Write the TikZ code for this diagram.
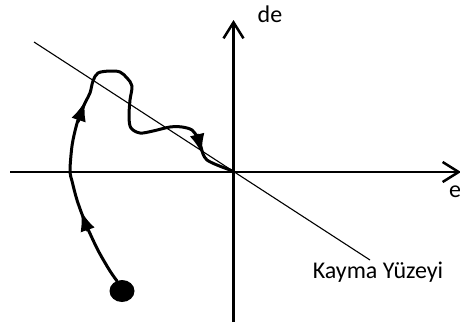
\documentclass[tikz,border=0pt]{standalone}
\usepackage{fontspec}
\setmainfont{Carlito}
\usetikzlibrary{arrows.meta}

\begin{document}
\begin{tikzpicture}[
    x=1pt, y=-1pt,
    every node/.style={font=\fontsize{24}{28}\selectfont, inner sep=0pt},
    axis/.style={line width=2.5pt, -{Straight Barb[length=16pt, width=20pt]}},
    surface/.style={line width=1.1pt},
    traj/.style={line width=3pt, line join=round, line cap=round},
    pathtip/.style={-{Latex[length=20pt, width=15pt]}, line width=3pt},
]
\useasboundingbox (0,0) rectangle (460,322);

% ---------------------------------------------------------- axes
\coordinate (O) at (233.5,172);
\coordinate (ewest) at (10,172);
\coordinate (eeast) at (461,172);
\coordinate (debot) at (233.5,322);
\coordinate (detop) at (233.5,20);
\draw[axis] (ewest) -- (eeast);
\draw[axis] (debot) -- (detop);
\node[anchor=west] (elab) at (449,192) {e};
\node (delab) at (270,14) {de};

% ---------------------------------------------------------- sliding surface
\coordinate (sstart) at (34,42);
\coordinate (send) at (370,260);
\draw[surface] (sstart) -- (send);
\node (slab) at (378,272) {Kayma Yüzeyi};

% ---------------------------------------------------------- trajectory
\fill (122,291) ellipse [x radius=12.5, y radius=11];
\draw[traj] plot[smooth, tension=0.55] coordinates {
  (117,281) (110,271) (100,254) (93,240) (85,222) (77,200) (72,181)
  (70,172) (71,155) (73,140) (78,120) (85,103) (90,93) (93,81)
  (98,73) (110,71) (120,72) (127,78) (132,86) (130,100) (129,117)
  (131,128) (140,133) (153,131) (170,127) (182,127) (192,130)
  (197,137) (201,147) (203,154) (207,160) (217,165) (230,170) (233.5,172)};

% arrowheads along the path
\draw[pathtip] (88,231) -- (81,211);
\draw[pathtip] (78,122) -- (85,101);
\draw[pathtip] (197,134) -- (202,154);

\end{tikzpicture}
\end{document}
